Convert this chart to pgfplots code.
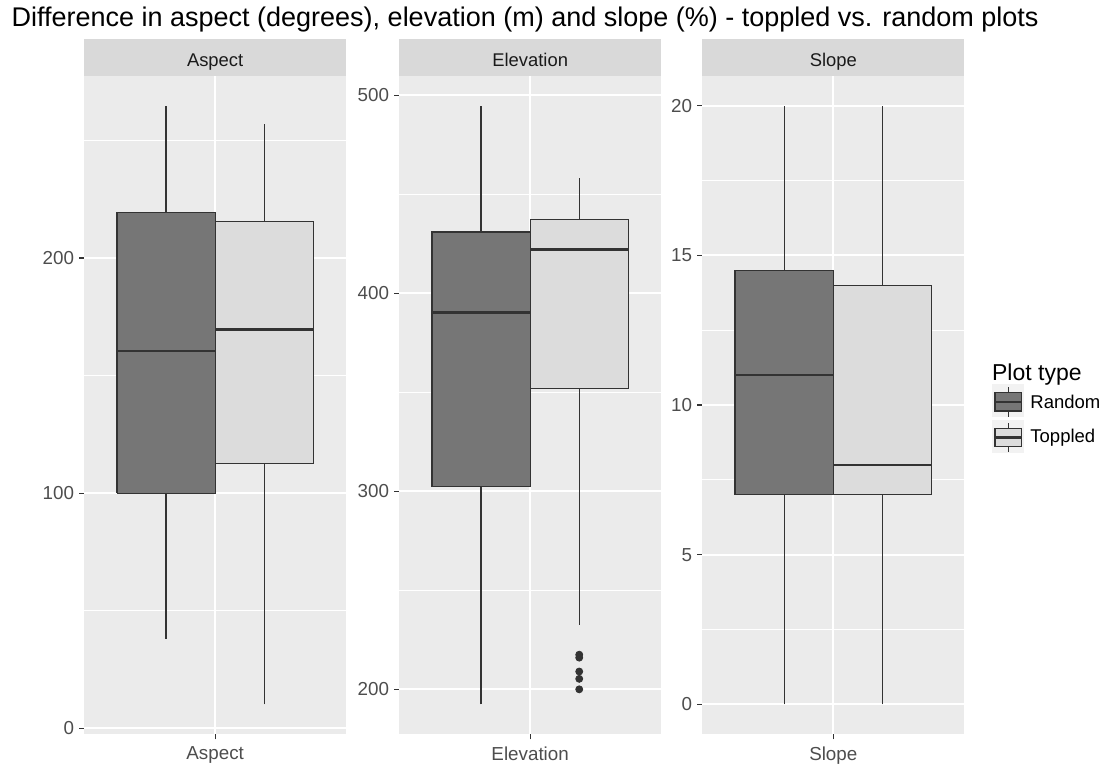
\documentclass[border=0pt]{standalone}
\usepackage{fontspec}
\setmainfont{Liberation Sans}
\usepackage{pgfplots}
\pgfplotsset{compat=1.18}
\definecolor{panelbg}{HTML}{EBEBEB}
\definecolor{stripbg}{HTML}{D9D9D9}
\definecolor{striptext}{HTML}{1A1A1A}
\definecolor{labcol}{HTML}{4D4D4D}
\definecolor{tickcol}{HTML}{333333}
\definecolor{boxline}{HTML}{333333}
\definecolor{randfill}{HTML}{767676}
\definecolor{topfill}{HTML}{DCDCDC}
\definecolor{keybg}{HTML}{F2F2F2}
\pgfplotsset{
  facet/.style={
    scale only axis, width=130.85pt, height=329.3pt, anchor=north west,
    xmin=0.4, xmax=1.6, xtick={1},
    axis background/.style={fill=panelbg},
    axis lines*=left, axis line style={draw=none},
    grid=both,
    major grid style={white, line width=1pt},
    minor grid style={white, line width=0.5pt},
    tick align=outside, major tick length=2.5pt, minor tick length=0pt,
    tick style={draw=tickcol, line width=0.55pt},
    ticklabel style={font=\fontsize{9.4}{11}\selectfont, text=labcol},
    yticklabel style={inner sep=0pt, xshift=-2.4pt},
    /pgf/number format/assume math mode=true,
    clip=false,
  },
  whisk/.style={draw=boxline, line width=0.6pt, mark=none},
  rbox/.style={draw=boxline, fill=randfill, line width=0.6pt, mark=none},
  tbox/.style={draw=boxline, fill=topfill, line width=0.6pt, mark=none},
  med/.style={draw=boxline, line width=1.35pt, mark=none},
}
\newcommand{\strip}[1]{%
  \fill[stripbg] (rel axis cs:0,1) rectangle ([yshift=18.2pt]rel axis cs:1,1);
  \node[anchor=base, inner sep=0pt, font=\fontsize{9.2}{11}\selectfont, text=striptext] at ([yshift=4.5pt]rel axis cs:0.5,1) {#1};
}
\begin{document}
\begin{tikzpicture}
\useasboundingbox (0,0) rectangle (553pt,-382.5pt);
\node[anchor=base west, font=\fontsize{13.5}{15}\selectfont, inner sep=0pt] at (5.6pt,-13.35pt)
  {Difference in aspect (degrees), elevation (m) and slope (\%) - toppled vs. random plots};

% Aspect
\begin{axis}[facet, at={(42.15pt,-37.85pt)},
  ymin=-2.53, ymax=277.53, ytick={0,100,200}, minor ytick={50,150,250},
  xticklabels={Aspect}]
\strip{Aspect}
% Random: 38 / 100 / 160.5 / 219.5 / 264.8
\addplot[whisk] coordinates {(0.775,38) (0.775,100)};
\addplot[whisk] coordinates {(0.775,219.5) (0.775,264.8)};
\addplot[rbox] coordinates {(0.55,100) (1,100) (1,219.5) (0.55,219.5) (0.55,100)};
\addplot[med] coordinates {(0.55,160.5) (1,160.5)};
% Toppled: 10.2 / 112.5 / 169.5 / 215.5 / 257
\addplot[whisk] coordinates {(1.225,10.2) (1.225,112.5)};
\addplot[whisk] coordinates {(1.225,215.5) (1.225,257)};
\addplot[tbox] coordinates {(1,112.5) (1.45,112.5) (1.45,215.5) (1,215.5) (1,112.5)};
\addplot[med] coordinates {(1,169.5) (1.45,169.5)};
\end{axis}

% Elevation
\begin{axis}[facet, at={(199.65pt,-37.85pt)},
  ymin=177.28, ymax=509.92, ytick={200,300,400,500}, minor ytick={250,350,450},
  xticklabels={Elevation}]
\strip{Elevation}
% Random: 192.4 / 302.4 / 390.2 / 431 / 494.8
\addplot[whisk] coordinates {(0.775,192.4) (0.775,302.4)};
\addplot[whisk] coordinates {(0.775,431) (0.775,494.8)};
\addplot[rbox] coordinates {(0.55,302.4) (1,302.4) (1,431) (0.55,431) (0.55,302.4)};
\addplot[med] coordinates {(0.55,390.2) (1,390.2)};
% Toppled: 232.5 / 352 / 422 / 437.2 / 458.3
\addplot[whisk] coordinates {(1.225,232.5) (1.225,352)};
\addplot[whisk] coordinates {(1.225,437.2) (1.225,458.3)};
\addplot[tbox] coordinates {(1,352) (1.45,352) (1.45,437.2) (1,437.2) (1,352)};
\addplot[med] coordinates {(1,422) (1.45,422)};
\addplot[only marks, mark=*, mark size=1.75pt, draw=boxline, fill=boxline]
  coordinates {(1.225,217.5) (1.225,216) (1.225,209) (1.225,205.3) (1.225,200)};
\end{axis}

% Slope
\begin{axis}[facet, at={(351.15pt,-37.85pt)}, width=131pt,
  ymin=-1, ymax=21, ytick={0,5,10,15,20}, minor ytick={2.5,7.5,12.5,17.5},
  xticklabels={Slope}]
\strip{Slope}
% Random: 0 / 7 / 11 / 14.5 / 20
\addplot[whisk] coordinates {(0.775,0) (0.775,7)};
\addplot[whisk] coordinates {(0.775,14.5) (0.775,20)};
\addplot[rbox] coordinates {(0.55,7) (1,7) (1,14.5) (0.55,14.5) (0.55,7)};
\addplot[med] coordinates {(0.55,11) (1,11)};
% Toppled: 0 / 7 / 8 / 14 / 20
\addplot[whisk] coordinates {(1.225,0) (1.225,7)};
\addplot[whisk] coordinates {(1.225,14) (1.225,20)};
\addplot[tbox] coordinates {(1,7) (1.45,7) (1.45,14) (1,14) (1,7)};
\addplot[med] coordinates {(1,8) (1.45,8)};
\end{axis}

% Legend
\node[anchor=base west, font=\fontsize{11.5}{13}\selectfont, inner sep=0pt] at (495.85pt,-190pt) {Plot type};
\fill[keybg] (495.85pt,-192.15pt) rectangle (512.15pt,-208.65pt);
\draw[boxline, line width=0.6pt] (504.15pt,-193.65pt) -- (504.15pt,-196.35pt);
\draw[boxline, line width=0.6pt] (504.15pt,-205.5pt) -- (504.15pt,-208.35pt);
\draw[boxline, fill=randfill, line width=0.6pt] (497.5pt,-196.35pt) rectangle (510.85pt,-205.5pt);
\draw[boxline, line width=1.1pt] (497.5pt,-200.9pt) -- (510.85pt,-200.9pt);
\node[anchor=base west, font=\fontsize{9.25}{11}\selectfont, inner sep=0pt] at (515pt,-204.25pt) {Random};
\fill[keybg] (495.85pt,-210pt) rectangle (512.15pt,-226.5pt);
\draw[boxline, line width=0.6pt] (504.15pt,-211.5pt) -- (504.15pt,-214.2pt);
\draw[boxline, line width=0.6pt] (504.15pt,-223.35pt) -- (504.15pt,-226.2pt);
\draw[boxline, fill=topfill, line width=0.6pt] (497.5pt,-214.2pt) rectangle (510.85pt,-223.35pt);
\draw[boxline, line width=1.1pt] (497.5pt,-218.75pt) -- (510.85pt,-218.75pt);
\node[anchor=base west, font=\fontsize{9.25}{11}\selectfont, inner sep=0pt] at (515pt,-221.25pt) {Toppled};
\end{tikzpicture}
\end{document}
